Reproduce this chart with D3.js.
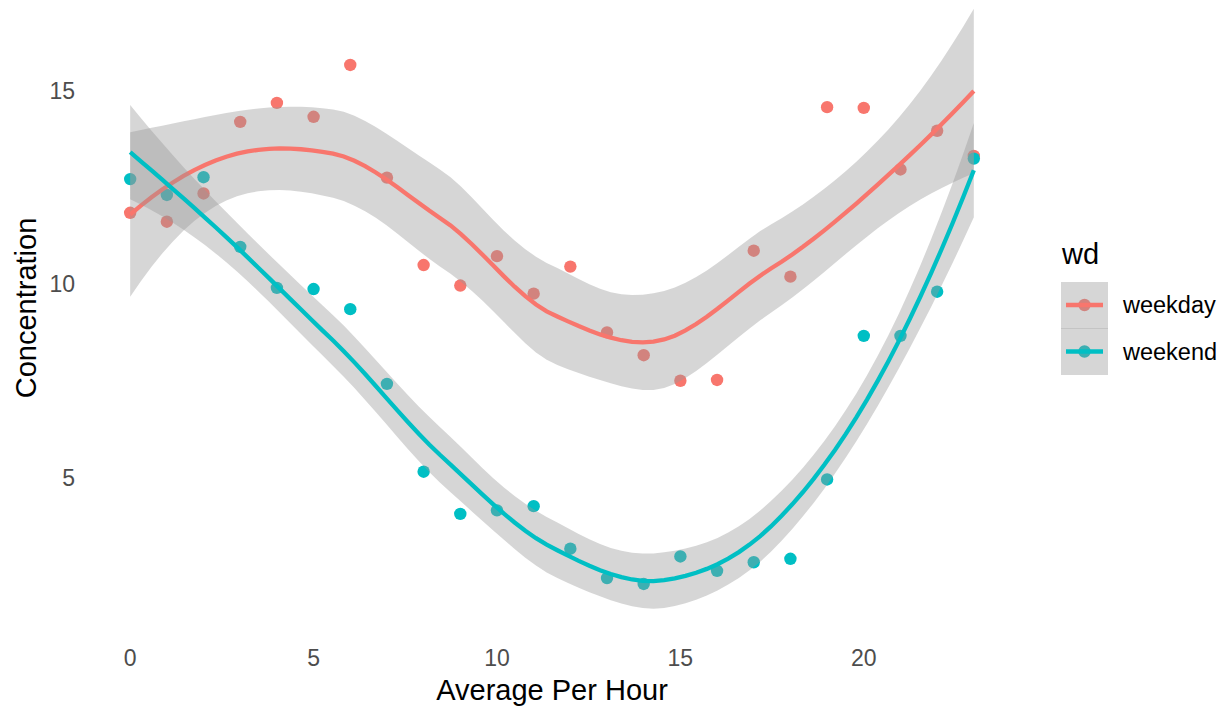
<!DOCTYPE html>
<html>
<head>
<meta charset="utf-8">
<script src="https://cdn.jsdelivr.net/npm/d3@7"></script>
<style>
  body { margin: 0; background: #fff; }
  svg { font-family: "Liberation Sans", Arial, sans-serif; }
</style>
</head>
<body>
<div id="chart"></div>
<script>
// data
var hours = [0, 1, 2, 3, 4, 5, 6, 7, 8, 9, 10, 11, 12, 13, 14, 15, 16, 17, 18, 19, 20, 21, 22, 23];
var weekday = [11.84, 11.61, 12.34, 14.19, 14.68, 14.32, 15.66, 12.75, 10.49, 9.96, 10.72, 9.75,
               10.45, 8.75, 8.16, 7.50, 7.52, 10.86, 10.19, 14.57, 14.55, 12.96, 13.96, 13.31];
var weekend = [12.71, 12.30, 12.76, 10.96, 9.90, 9.87, 9.35, 7.42, 5.15, 4.06, 4.15, 4.26,
               3.16, 2.40, 2.25, 2.96, 2.59, 2.81, 2.90, 4.95, 8.66, 8.66, 9.80, 13.24];
var groups = ["weekday", "weekend"];
var colors = ["#F8766D", "#00BFC4"];
var xTicks = [0, 5, 10, 15, 20];
var yTicks = [5, 10, 15];

var width = 1227, height = 709;

var svg = d3.select("#chart")
  .append("svg")
  .attr("width", width)
  .attr("height", height);

var x = d3.scaleLinear().domain([-1.15, 24.15]).range([88, 1016]);
var y = d3.scaleLinear().domain([5, 15]).range([477.5, 90.5]);

// --- loess smoother (span .75, degree 2, kd-tree + cubic interpolation) with std errors ---
function inv3(m) {
  var a = m[0][0], b = m[0][1], c = m[0][2],
      d = m[1][0], e = m[1][1], f = m[1][2],
      g = m[2][0], h = m[2][1], k = m[2][2];
  var A = e * k - f * h, B = -(d * k - f * g), C = d * h - e * g;
  var det = a * A + b * B + c * C;
  return [
    [A / det, -(b * k - c * h) / det, (b * f - c * e) / det],
    [B / det, (a * k - c * g) / det, -(a * f - c * d) / det],
    [C / det, -(a * h - b * g) / det, (a * e - b * d) / det]
  ];
}

function qt975(df) {
  var z = 1.959964, z3 = z * z * z, z5 = z3 * z * z, z7 = z5 * z * z, z9 = z7 * z * z;
  var g1 = (z3 + z) / 4;
  var g2 = (5 * z5 + 16 * z3 + 3 * z) / 96;
  var g3 = (3 * z7 + 19 * z5 + 17 * z3 - 15 * z) / 384;
  var g4 = (79 * z9 + 776 * z7 + 1482 * z5 - 1920 * z3 - 945 * z) / 92160;
  return z + g1 / df + g2 / (df * df) + g3 / Math.pow(df, 3) + g4 / Math.pow(df, 4);
}

function loess(xs, ys, span) {
  var n = xs.length, q = Math.floor(n * span), fc = Math.floor(n * span * 0.2);

  // local quadratic at x0: operator rows for value and slope
  function local(x0) {
    var d = xs.map(function(xi) { return Math.abs(xi - x0); });
    var h = d.slice().sort(d3.ascending)[q - 1];
    var w = d.map(function(di) { var u = di / h; return u < 1 ? Math.pow(1 - u * u * u, 3) : 0; });
    var S = [[0, 0, 0], [0, 0, 0], [0, 0, 0]];
    xs.forEach(function(xi, i) {
      var t = xi - x0, b = [1, t, t * t];
      for (var j = 0; j < 3; j++) for (var k = 0; k < 3; k++) S[j][k] += w[i] * b[j] * b[k];
    });
    var Si = inv3(S);
    return {
      v: xs.map(function(xi, i) { var t = xi - x0; return w[i] * (Si[0][0] + Si[0][1] * t + Si[0][2] * t * t); }),
      s: xs.map(function(xi, i) { var t = xi - x0; return w[i] * (Si[1][0] + Si[1][1] * t + Si[1][2] * t * t); })
    };
  }

  // kd-tree vertices
  var sx = xs.slice().sort(d3.ascending);
  var lo = sx[0], hi = sx[n - 1], mu = 0.005 * (hi - lo);
  var verts = [lo - mu, hi + mu];
  (function split(l, u) {
    if (u - l + 1 <= fc) return;
    var m = Math.floor((l + u) / 2);
    verts.push((sx[m] + sx[m + 1]) / 2);
    split(l, m);
    split(m + 1, u);
  })(0, n - 1);
  verts.sort(d3.ascending);
  var vfit = verts.map(local);

  function row(x0) {
    var k = Math.max(0, Math.min(verts.length - 2, d3.bisectRight(verts, x0) - 1));
    var a = verts[k], b = verts[k + 1], h = b - a, s = (x0 - a) / h;
    var h00 = 2 * s * s * s - 3 * s * s + 1, h10 = s * s * s - 2 * s * s + s,
        h01 = -2 * s * s * s + 3 * s * s, h11 = s * s * s - s * s;
    var A = vfit[k], B = vfit[k + 1];
    return xs.map(function(xi, i) {
      return h00 * A.v[i] + h10 * h * A.s[i] + h01 * B.v[i] + h11 * h * B.s[i];
    });
  }

  var L = xs.map(row);
  var res = L.map(function(l, i) { return ys[i] - d3.sum(l, function(v, j) { return v * ys[j]; }); });
  var M = L.map(function(l, i) { return l.map(function(v, j) { return (i === j ? 1 : 0) - v; }); });
  var one = 0, two = 0;
  for (var i = 0; i < n; i++) {
    for (var j = 0; j < n; j++) {
      var a = 0;
      for (var k = 0; k < n; k++) a += M[k][i] * M[k][j];
      if (i === j) one += a;
      two += a * a;
    }
  }
  var sigma = Math.sqrt(d3.sum(res, function(r) { return r * r; }) / one);
  var tq = qt975(one * one / two);
  return d3.range(80).map(function(i) {
    var x0 = lo + (hi - lo) * i / 79;
    var l = row(x0);
    var fit = d3.sum(l, function(v, j) { return v * ys[j]; });
    var se = sigma * Math.sqrt(d3.sum(l, function(v) { return v * v; }));
    return {x: x0, fit: fit, lo: fit - tq * se, hi: fit + tq * se};
  });
}

var series = [weekday, weekend];

// points first (smooth layer is drawn over them)
series.forEach(function(vals, gi) {
  svg.append("g")
    .selectAll("circle")
    .data(hours)
    .enter()
    .append("circle")
      .attr("cx", function(d) { return x(d); })
      .attr("cy", function(d, i) { return y(vals[i]); })
      .attr("r", 6.2)
      .style("fill", colors[gi]);
});

var area = d3.area()
  .x(function(d) { return x(d.x); })
  .y0(function(d) { return y(d.lo); })
  .y1(function(d) { return y(d.hi); });
var line = d3.line()
  .x(function(d) { return x(d.x); })
  .y(function(d) { return y(d.fit); });

series.forEach(function(vals, gi) {
  var sm = loess(hours, vals, 0.75);
  svg.append("path")
    .datum(sm)
    .attr("d", area)
    .style("fill", "#999999")
    .style("fill-opacity", 0.4);
  svg.append("path")
    .datum(sm)
    .attr("d", line)
    .style("fill", "none")
    .style("stroke", colors[gi])
    .style("stroke-width", 4.3);
});

// axes (ggplot minimal: labels only)
svg.append("g")
  .selectAll("text")
  .data(xTicks)
  .enter()
  .append("text")
    .attr("x", function(d) { return x(d); })
    .attr("y", 666)
    .attr("text-anchor", "middle")
    .style("font-size", "23px")
    .style("fill", "#4D4D4D")
    .text(function(d) { return d; });

svg.append("g")
  .selectAll("text")
  .data(yTicks)
  .enter()
  .append("text")
    .attr("x", 75)
    .attr("y", function(d) { return y(d) + 8.2; })
    .attr("text-anchor", "end")
    .style("font-size", "23px")
    .style("fill", "#4D4D4D")
    .text(function(d) { return d; });

svg.append("text")
  .attr("x", 552)
  .attr("y", 700)
  .attr("text-anchor", "middle")
  .style("font-size", "29px")
  .style("fill", "#000")
  .text("Average Per Hour");

svg.append("text")
  .attr("transform", "translate(36,308) rotate(-90)")
  .attr("text-anchor", "middle")
  .style("font-size", "29px")
  .style("fill", "#000")
  .text("Concentration");

// legend
var lg = svg.append("g").attr("transform", "translate(1061,0)");
lg.append("text")
  .attr("x", 1)
  .attr("y", 264)
  .style("font-size", "29px")
  .style("fill", "#000")
  .text("wd");

groups.forEach(function(g, i) {
  var top = 282 + i * 46.5, cy = top + 23;
  lg.append("rect").attr("x", 0).attr("y", top).attr("width", 47).attr("height", 46.5).style("fill", "#fff");
  lg.append("circle").attr("cx", 23.5).attr("cy", cy).attr("r", 6.2).style("fill", colors[i]);
  lg.append("rect").attr("x", 0).attr("y", top).attr("width", 47).attr("height", 46.5)
    .style("fill", "#999999").style("fill-opacity", 0.4);
  lg.append("line").attr("x1", 5).attr("x2", 42).attr("y1", cy).attr("y2", cy)
    .style("stroke", colors[i]).style("stroke-width", 4.3);
  lg.append("text")
    .attr("x", 62)
    .attr("y", cy + 8.3)
    .style("font-size", "23.5px")
    .style("fill", "#000")
    .text(g);
});
lg.append("line").attr("x1", 0).attr("x2", 47).attr("y1", 328.5).attr("y2", 328.5)
  .style("stroke", "#c4c4c4").style("stroke-width", 1);
</script>
</body>
</html>
